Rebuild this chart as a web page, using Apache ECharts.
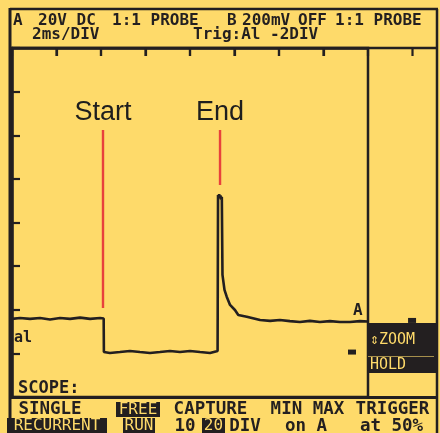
<!DOCTYPE html>
<html><head><meta charset="utf-8">
<script src="https://cdn.jsdelivr.net/npm/echarts@6/dist/echarts.min.js"></script>
<style>html,body{margin:0;padding:0;background:#FEDA6A;}#c{width:440px;height:433px;}</style>
</head><body><div id="c"></div>
<script>
// Channel A trace, time in ms (2 ms/div), volts (20 V/div)
const timeMs = [0, 0.36, 0.81, 1.26, 1.71, 2.16, 2.61, 3.06, 3.51, 3.96, 4.12, 4.13, 4.40, 4.85, 5.30, 5.75, 6.20, 6.65, 7.10, 7.55, 8.00, 8.45, 8.90, 9.24, 9.26, 9.29, 9.31, 9.34, 9.37, 9.40, 9.43, 9.46, 9.54, 9.55, 9.65, 9.80, 10.02, 10.17, 10.55, 11.15, 11.60, 12.04, 12.49, 12.94, 13.39, 13.84, 14.29, 14.74, 15.19, 15.64, 16.0];
const voltsA = [35.8, 36.2, 35.8, 36.2, 35.5, 36.2, 35.8, 36.4, 35.8, 36.2, 36.0, 20.6, 20.2, 20.6, 21.1, 20.6, 20.2, 20.6, 21.1, 20.6, 21.1, 20.6, 20.2, 21.1, 92.6, 91.5, 93.0, 91.2, 92.4, 90.5, 91.8, 56.0, 55.5, 49.1, 46.0, 42.2, 39.9, 37.6, 36.8, 35.3, 34.9, 35.3, 34.8, 34.4, 34.9, 34.4, 34.8, 34.4, 34.4, 34.8, 34.6];
// Division marks along the top edge (ms)
const topTickMs = [2, 4, 6, 8, 10, 12, 14, 18];
// Annotation cursors
const cursorNames = ['Start', 'End'];
const cursorTime = [4.09, 9.35];
const cursorTop = [122.4, 122.4];
const cursorBottom = [40.8, 97.2];
const cursorLabelV = [130.5, 130.5];
// Level markers
const levelMarkT = [15.28, 17.98];
const levelMarkV = [20.6, 35.1];
// Axis
const xMin = 0, xMax = 16, xStep = 2;
const yMin = 0, yMax = 160, yStep = 20;

const BG = '#FEDA6A', INK = '#231f20', RED = '#E8413C';
const MONO = '"DejaVu Sans Mono", monospace';
const GRID = {left: 12, top: 48, right: 72, bottom: 36};
const W = 440, H = 433;
const chart = echarts.init(document.getElementById('c'), null, {renderer: 'canvas', width: W, height: H});

const trace = timeMs.map((t, i) => [t, voltsA[i]]);
const series = [{
  type: 'line', data: trace, symbol: 'none', animation: false,
  lineStyle: {color: INK, width: 2.6}, z: 5
}];
cursorNames.forEach((n, i) => {
  series.push({
    type: 'line', symbol: 'none', animation: false, z: 4,
    data: [[cursorTime[i], cursorBottom[i]], [cursorTime[i], cursorTop[i]]],
    lineStyle: {color: RED, width: 2.4}
  });
  series.push({
    type: 'scatter', symbolSize: 0, animation: false, z: 6,
    itemStyle: {opacity: 1},
    data: [{value: [cursorTime[i], cursorLabelV[i]], name: n}],
    label: {show: true, position: 'inside', formatter: '{b}', color: '#1e1e1e', opacity: 1,
      textBorderWidth: 0, fontFamily: '"Liberation Sans", Arial, sans-serif', fontSize: 27}
  });
});
series.push({
  type: 'scatter', symbol: 'rect', symbolSize: [8, 5], clip: false, animation: false, z: 6,
  itemStyle: {color: INK, opacity: 1},
  data: levelMarkT.map((t, i) => [t, levelMarkV[i]])
});

function txt(x, y, s, size, opts) {
  return Object.assign({type: 'text', x: x, y: y, z: 20, style: Object.assign({
    text: s, fill: INK, font: 'bold ' + size + 'px ' + MONO,
    textAlign: 'left', textVerticalAlign: 'middle'}, opts || {})});
}
function line(x1, y1, x2, y2, w) {
  return {type: 'line', z: 15, shape: {x1: x1, y1: y1, x2: x2, y2: y2}, style: {stroke: INK, lineWidth: w || 2.5}};
}
function box(x, y, w, h) {
  return {type: 'rect', z: 16, shape: {x: x, y: y, width: w, height: h}, style: {fill: INK}};
}
const Y = {textAlign: 'center'};
const inv = {textAlign: 'center', fill: BG, font: '16px ' + MONO};

// top-edge division marks on the linear time scale of the grid
const plotW = W - GRID.left - GRID.right;
const tickGraphics = topTickMs.map(t => {
  const px = GRID.left + (t - xMin) / (xMax - xMin) * plotW;
  return line(px, GRID.top, px, GRID.top + 8, 2.2);
});

const graphic = [
  // outer frame
  line(10, 9, 438, 9, 2.5), line(10, 8, 10, 433, 3), line(437, 9, 437, 433, 2.5),
  line(10, 48, 438, 48, 2.5), line(10, 397.5, 438, 397.5, 3),
  // right panel box
  box(367, 323, 69, 50),
  {type: 'line', z: 17, shape: {x1: 368, y1: 356.5, x2: 434, y2: 356.5}, style: {stroke: BG, lineWidth: 1, opacity: 0.6}},
  txt(370, 340, '⇕ZOOM', 15, {fill: BG, font: '15px ' + MONO}),
  txt(370, 365, 'HOLD', 15, {fill: BG, font: '15px ' + MONO}),
  // header
  txt(13, 20.5, 'A', 16), txt(38, 20.5, '20V DC', 16), txt(112, 20.5, '1:1 PROBE', 16),
  txt(227, 20.5, 'B', 16), txt(242, 20.5, '200mV', 16), txt(298, 20.5, 'OFF', 16), txt(335, 20.5, '1:1 PROBE', 16),
  txt(32, 35, '2ms/DIV', 16), txt(193, 35, 'Trig:Al -2DIV', 16),
  // in-plot labels
  txt(14, 338, 'al', 15), txt(353, 311, 'A', 16), txt(18, 389, 'SCOPE:', 17),
  // bottom menu
  txt(50, 409, 'SINGLE', 17.5, Y),
  box(116, 402, 44, 15), txt(138, 409.5, 'FREE', 16, inv),
  txt(210.5, 409, 'CAPTURE', 17.5, Y), txt(307.5, 409, 'MIN MAX', 17.5, Y), txt(392.5, 409, 'TRIGGER', 17.5, Y),
  box(7, 418, 100, 15), txt(57, 426, 'RECURRENT', 16, inv),
  box(123, 418, 32, 15), txt(139, 426, 'RUN', 16, inv),
  txt(185, 426, '10', 17.5, Y), box(202, 418, 23, 15), txt(213.5, 426, '20', 16, inv),
  txt(245, 426, 'DIV', 17.5, Y), txt(306, 426, 'on A', 17.5, Y), txt(391.5, 426, 'at 50%', 17.5, Y)
].concat(tickGraphics);

chart.setOption({
  backgroundColor: BG,
  animation: false,
  grid: Object.assign({show: true, borderColor: INK, borderWidth: 2.5, backgroundColor: 'transparent'}, GRID),
  xAxis: [{type: 'value', position: 'top', min: xMin, max: xMax, interval: xStep, z: 12,
    axisLine: {show: true, onZero: false, lineStyle: {color: INK, width: 2.5}}, axisLabel: {show: false}, splitLine: {show: false},
    axisTick: {show: true, inside: true, length: 8, lineStyle: {color: INK, width: 2.2}}}],
  yAxis: [{type: 'value', position: 'left', min: yMin, max: yMax, interval: yStep, z: 12,
    axisLine: {show: true, onZero: false, lineStyle: {color: INK, width: 2.5}}, axisLabel: {show: false}, splitLine: {show: false},
    axisTick: {show: true, inside: true, length: 8, lineStyle: {color: INK, width: 2.2}}}],
  series: series,
  graphic: graphic
});
</script></body></html>
